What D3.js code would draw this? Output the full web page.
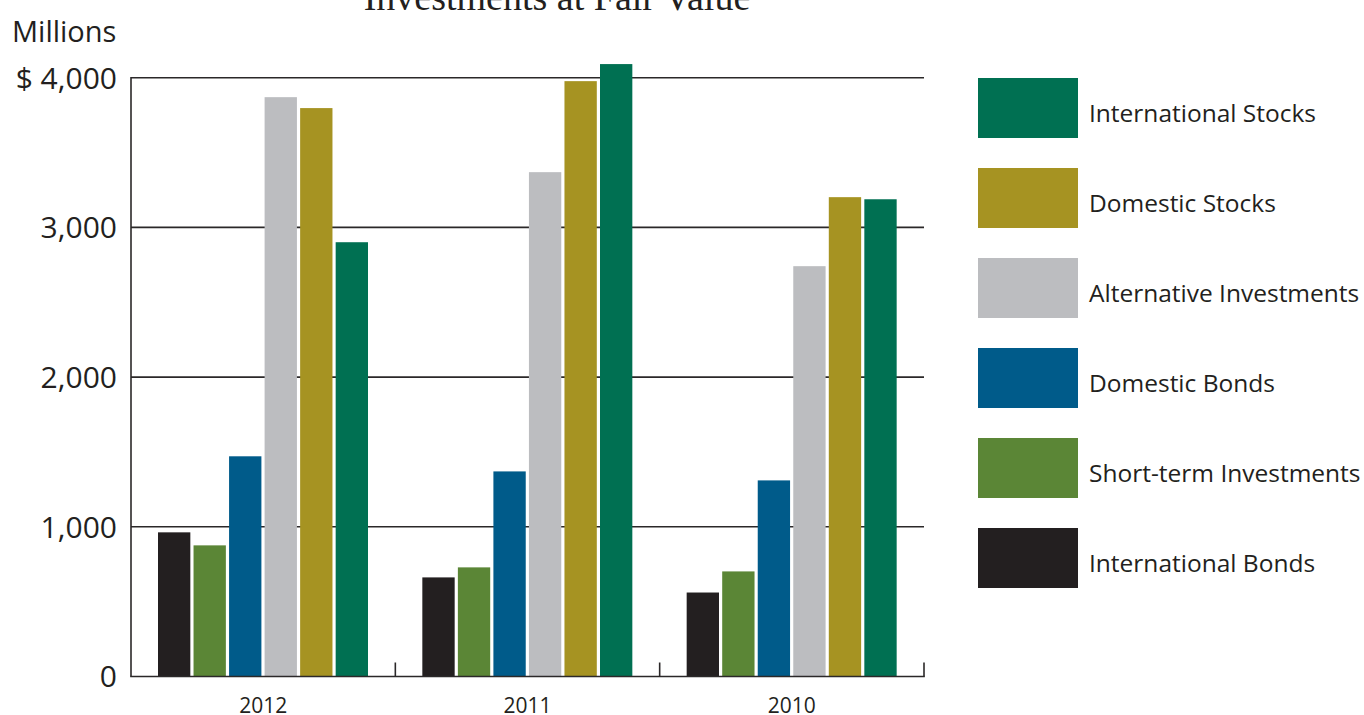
<!DOCTYPE html>
<html>
<head>
<meta charset="utf-8">
<script src="https://cdn.jsdelivr.net/npm/d3@7"></script>
<style>
  html, body { margin: 0; padding: 0; background: #fff; }
  svg { display: block; }
</style>
</head>
<body>
<svg id="chart" width="1364" height="715"></svg>
<script>
const title = "Investments at Fair Value";
const unitLabel = "Millions";
const years = ["2012", "2011", "2010"];
const seriesNames = ["International Bonds", "Short-term Investments", "Domestic Bonds", "Alternative Investments", "Domestic Stocks", "International Stocks"];
const seriesColors = ["#231f20", "#5b8636", "#005b8a", "#bcbdc0", "#a69322", "#007052"];
const intlBonds   = [963, 662, 561];
const shortTerm   = [876, 729, 702];
const domBonds    = [1471, 1370, 1310];
const altInv      = [3870, 3369, 2741];
const domStocks   = [3797, 3977, 3202];
const intlStocks  = [2901, 4091, 3188];
const yTicks = [0, 1000, 2000, 3000, 4000];
const yTickLabels = ["0", "1,000", "2,000", "3,000", "$ 4,000"];

const seriesValues = [intlBonds, shortTerm, domBonds, altInv, domStocks, intlStocks];

const svg = d3.select("#chart");
const textColor = "#231f20";
const sans = "'Open Sans', 'Noto Sans', sans-serif";

const plotLeft = 131, plotRight = 924, plotTop = 77.7, plotBottom = 676.5;
const x0 = d3.scaleBand().domain(years).range([plotLeft, plotRight]).padding(0);
const x1 = d3.scaleBand().domain(seriesNames).range([27, 237]).paddingInner(0.09).paddingOuter(0);
const y = d3.scaleLinear().domain([0, 4000]).range([plotBottom, plotTop]);

// title (cut off at the top)
svg.append("text").attr("x", 557).attr("y", 10).attr("text-anchor", "middle")
  .attr("font-family", "'Liberation Serif', 'DejaVu Serif', serif").attr("font-size", 38)
  .attr("fill", textColor).text(title);

// Millions
svg.append("text").attr("x", 12).attr("y", 42).attr("font-family", sans)
  .attr("font-size", 29).attr("fill", textColor).text(unitLabel);

// gridlines
svg.append("g").selectAll("line").data(yTicks.filter(d => d > 0)).join("line")
  .attr("x1", plotLeft).attr("x2", plotRight).attr("y1", d => y(d)).attr("y2", d => y(d))
  .attr("stroke", "#2b2829").attr("stroke-width", 1.6);

// y axis labels
svg.append("g").selectAll("text").data(yTicks).join("text")
  .attr("x", 117).attr("y", d => y(d)).attr("dy", "0.36em").attr("text-anchor", "end")
  .attr("font-family", sans).attr("font-size", 30).attr("fill", textColor)
  .text((d, i) => yTickLabels[i]);

// bars
const groups = svg.append("g").selectAll("g").data(years).join("g")
  .attr("transform", d => `translate(${x0(d)},0)`);
groups.selectAll("rect").data((yr, gi) => seriesNames.map((s, si) => ({s, si, v: seriesValues[si][gi]})))
  .join("rect")
  .attr("x", d => x1(d.s)).attr("width", x1.bandwidth())
  .attr("y", d => y(d.v)).attr("height", d => plotBottom - y(d.v))
  .attr("fill", d => seriesColors[d.si]);

// axes lines
svg.append("line").attr("x1", plotLeft).attr("x2", plotLeft).attr("y1", plotTop - 0.8).attr("y2", plotBottom)
  .attr("stroke", "#2b2829").attr("stroke-width", 1.6);
svg.append("line").attr("x1", plotLeft - 0.8).attr("x2", plotRight + 0.8).attr("y1", plotBottom).attr("y2", plotBottom)
  .attr("stroke", "#2b2829").attr("stroke-width", 1.6);
// x ticks between groups
const tickXs = years.map(d => x0(d) + x0.bandwidth());
svg.append("g").selectAll("line").data(tickXs).join("line")
  .attr("x1", d => d).attr("x2", d => d).attr("y1", plotBottom).attr("y2", plotBottom - 14)
  .attr("stroke", "#2b2829").attr("stroke-width", 1.6);

// x labels
svg.append("g").selectAll("text").data(years).join("text")
  .attr("x", d => x0(d) + x0.bandwidth() / 2).attr("y", 713).attr("text-anchor", "middle")
  .attr("font-family", sans).attr("font-size", 21).attr("fill", textColor).text(d => d);

// legend (reverse order)
const legendOrder = seriesNames.map((s, i) => i).reverse();
const lg = svg.append("g").selectAll("g").data(legendOrder).join("g")
  .attr("transform", (d, i) => `translate(978,${78 + i * 90})`);
lg.append("rect").attr("width", 100).attr("height", 60).attr("fill", d => seriesColors[d]);
lg.append("text").attr("x", 111).attr("y", 44)
  .attr("font-family", sans).attr("font-size", 24.5).attr("fill", textColor)
  .text(d => seriesNames[d]);
</script>
</body>
</html>
